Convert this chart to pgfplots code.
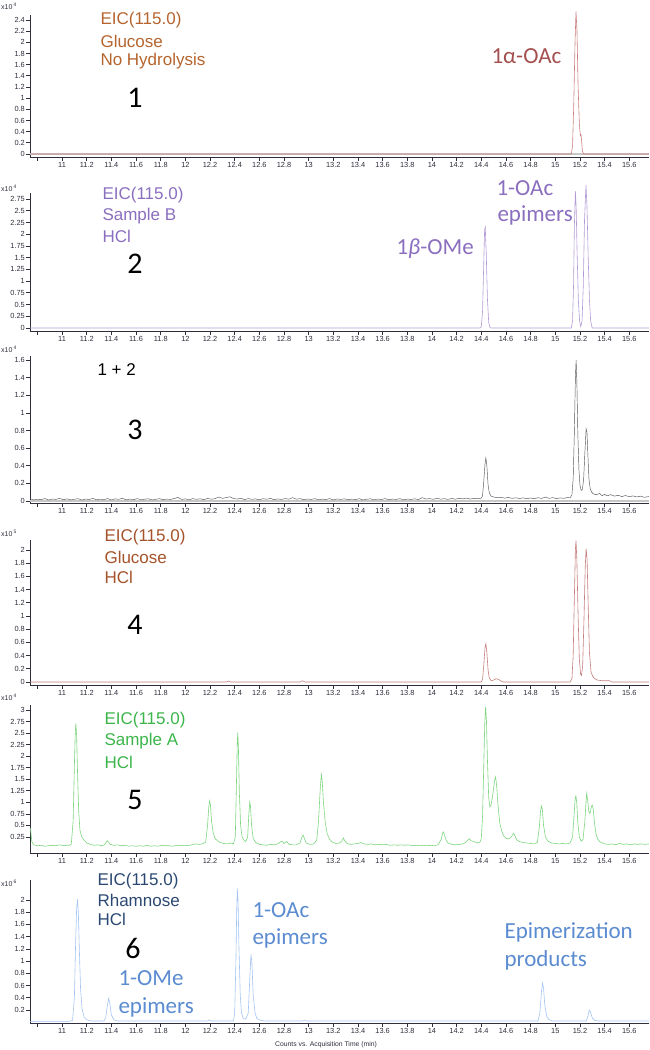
\documentclass[border=0pt]{standalone}
\usepackage{fontspec}
\setmainfont{Liberation Sans}
\newfontfamily\calfont{Carlito}
\usepackage{pgfplots}
\pgfplotsset{compat=1.18}
\definecolor{txA}{HTML}{B5642E}
\definecolor{txAc}{HTML}{A44F4F}
\definecolor{lnA}{HTML}{C98080}
\definecolor{txB}{HTML}{8B6FBF}
\definecolor{lnB}{HTML}{B39BD6}
\definecolor{lnC}{HTML}{555555}
\definecolor{txD}{HTML}{A4522A}
\definecolor{lnD}{HTML}{C47E7E}
\definecolor{txE}{HTML}{3BB54A}
\definecolor{lnE}{HTML}{7DD57F}
\definecolor{txF}{HTML}{2B4872}
\definecolor{anF}{HTML}{5B8BD0}
\definecolor{lnF}{HTML}{A4C4F2}
\definecolor{tk}{HTML}{2E2E3C}
\pgfplotsset{
 chrom/.style={
  scale only axis, width=619pt, xmin=10.74, xmax=15.76,
  axis x line=bottom, axis y line=left,
  axis line style={-, tk, line width=0.8pt},
  tick align=outside, major tick length=4pt,
  tick style={tk, line width=0.7pt},
  xtick={10.8,11,11.2,11.4,11.6,11.8,12,12.2,12.4,12.6,12.8,13,13.2,13.4,13.6,13.8,14,14.2,14.4,14.6,14.8,15,15.2,15.4,15.6},
  xticklabels={,11,11.2,11.4,11.6,11.8,12,12.2,12.4,12.6,12.8,13,13.2,13.4,13.6,13.8,14,14.2,14.4,14.6,14.8,15,15.2,15.4,15.6},
  tick label style={font=\fontsize{7.4}{8}\selectfont, text=tk},
  yticklabel style={inner sep=1pt},
  xticklabel style={inner sep=1.5pt},
  /pgf/number format/assume math mode=true,
  clip=false,
  every axis plot/.append style={line width=0.6pt, mark=none},
 }
}
\tikzset{
 eic/.style={anchor=west, font=\fontsize{17}{18}\selectfont},
 num/.style={font=\calfont\fontsize{30}{30}\selectfont},
 ann/.style={anchor=west, font=\calfont\fontsize{23}{24}\selectfont},
 mult/.style={anchor=west, inner sep=1pt, font=\fontsize{7}{8}\selectfont, text=tk}
}
\newcommand\mul[1]{x10\,\raisebox{3pt}{\fontsize{5}{5}\selectfont #1}}
\begin{document}
\begin{tikzpicture}
\useasboundingbox (0,0) rectangle (649pt,-1050pt);

% panel 1
\begin{axis}[chrom, at={(30pt,-157pt)}, anchor=south west, height=142pt,
 ymin=-0.054, ymax=2.49, ytick={0,0.2,0.4,0.6,0.8,1,1.2,1.4,1.6,1.8,2,2.2,2.4}]
\addplot[black!22, line width=1.6pt] coordinates {(10.74,0) (15.76,0)};
\addplot[lnA] coordinates {(10.74,0) (15.13,0) (15.14,0.15) (15.15,0.9) (15.16,2.0) (15.168,2.55) (15.176,2.2) (15.185,1.2) (15.195,0.55) (15.203,0.33) (15.208,0.35) (15.213,0.25) (15.22,0.05) (15.23,0) (15.76,0)};
\end{axis}

% panel 2
\begin{axis}[chrom, at={(30pt,-331pt)}, anchor=south west, height=138pt,
 ymin=-0.064, ymax=2.878, ytick={0,0.25,0.5,0.75,1,1.25,1.5,1.75,2,2.25,2.5,2.75}]
\addplot[lnB] coordinates {(10.74,0) (14.39,0) (14.40,0.03) (14.41,0.35) (14.42,1.4) (14.427,2.1) (14.432,2.15) (14.44,1.6) (14.45,0.6) (14.46,0.12) (14.47,0.01) (14.48,0)
 (15.13,0) (15.14,0.15) (15.148,0.9) (15.155,2.2) (15.163,2.92) (15.169,2.6) (15.177,1.6) (15.187,0.6) (15.197,0.15) (15.207,0.03) (15.217,0.15) (15.227,0.9) (15.237,2.3) (15.249,3.05) (15.257,2.6) (15.267,1.5) (15.277,0.6) (15.287,0.15) (15.299,0) (15.76,0)};
\end{axis}

% panel 3
\begin{axis}[chrom, at={(30pt,-503pt)}, anchor=south west, height=147pt,
 ymin=-0.023, ymax=1.645, ytick={0,0.2,0.4,0.6,0.8,1,1.2,1.4,1.6}]
\addplot[black!22, line width=1.2pt] coordinates {(10.74,0) (15.76,0)};
\addplot[lnC, line width=0.45pt] table {
10.74 .025
10.77 .012
10.80 .020
10.83 .015
10.86 .028
10.89 .010
10.92 .022
10.95 .018
10.98 .030
11.01 .014
11.04 .024
11.07 .012
11.10 .020
11.13 .026
11.16 .010
11.19 .022
11.22 .017
11.25 .029
11.28 .013
11.31 .021
11.34 .016
11.37 .027
11.40 .011
11.43 .024
11.46 .019
11.49 .030
11.52 .012
11.55 .022
11.58 .015
11.61 .027
11.64 .013
11.67 .020
11.70 .025
11.73 .011
11.76 .019
11.79 .026
11.82 .014
11.85 .022
11.88 .017
11.91 .028
11.94 .040
11.97 .018
12.00 .024
12.03 .013
12.06 .027
12.09 .019
12.12 .025
12.15 .014
12.18 .029
12.21 .020
12.24 .026
12.27 .045
12.30 .030
12.33 .038
12.36 .048
12.39 .028
12.42 .022
12.45 .030
12.48 .016
12.51 .027
12.54 .019
12.57 .024
12.60 .013
12.63 .026
12.66 .020
12.69 .029
12.72 .015
12.75 .023
12.78 .018
12.81 .027
12.84 .021
12.87 .038
12.90 .020
12.93 .027
12.96 .014
12.99 .022
13.02 .018
13.05 .026
13.08 .013
13.11 .021
13.14 .017
13.17 .027
13.20 .012
13.23 .023
13.26 .018
13.29 .025
13.32 .014
13.35 .021
13.38 .016
13.41 .026
13.44 .012
13.47 .020
13.50 .024
13.53 .013
13.56 .022
13.59 .017
13.62 .027
13.65 .014
13.68 .021
13.71 .018
13.74 .026
13.77 .013
13.80 .022
13.83 .017
13.86 .025
13.89 .015
13.92 .038
13.95 .022
13.98 .027
14.01 .019
14.04 .030
14.07 .021
14.10 .026
14.13 .018
14.16 .029
14.19 .020
14.22 .031
14.25 .024
14.28 .033
14.31 .022
14.34 .030
14.37 .025
14.40 .032
14.41 .06
14.42 .22
14.43 .42
14.437 .49
14.445 .40
14.455 .18
14.465 .09
14.48 .055
14.50 .045
14.53 .038
14.56 .042
14.59 .032
14.62 .040
14.65 .030
14.68 .036
14.71 .028
14.74 .035
14.77 .026
14.80 .034
14.83 .025
14.86 .037
14.89 .029
14.92 .045
14.95 .030
14.98 .038
15.01 .027
15.04 .035
15.07 .030
15.10 .040
15.12 .035
15.135 .07
15.145 .25
15.155 .80
15.163 1.40
15.169 1.60
15.175 1.35
15.183 .75
15.192 .35
15.200 .18
15.210 .12
15.220 .13
15.230 .25
15.240 .55
15.250 .82
15.257 .78
15.265 .50
15.273 .25
15.283 .14
15.295 .10
15.31 .08
15.33 .070
15.36 .085
15.38 .060
15.40 .075
15.42 .058
15.45 .072
15.48 .055
15.51 .065
15.54 .050
15.57 .062
15.60 .048
15.63 .058
15.66 .045
15.69 .055
15.72 .042
15.76 .050
};
\end{axis}

% panel 4
\begin{axis}[chrom, at={(30pt,-685pt)}, anchor=south west, height=145pt,
 ymin=-0.045, ymax=2.15, ytick={0,0.2,0.4,0.6,0.8,1,1.2,1.4,1.6,1.8,2}]
\addplot[lnD] table {
10.74 0
12.33 0
12.35 .015
12.37 0
12.93 0
12.95 .02
12.97 0
14.40 0
14.41 .04
14.42 .25
14.43 .52
14.437 .58
14.445 .45
14.455 .18
14.465 .06
14.48 .02
14.50 .03
14.52 .05
14.54 .04
14.56 .015
14.58 0
15.12 0
15.135 .05
15.145 .40
15.155 1.30
15.163 2.00
15.168 2.14
15.175 1.85
15.185 1.00
15.195 .35
15.205 .12
15.213 .10
15.222 .25
15.232 .90
15.243 1.75
15.25 2.02
15.258 1.85
15.267 1.15
15.277 .45
15.29 .15
15.305 .08
15.32 .05
15.34 .03
15.38 .02
15.44 .02
15.46 0
15.76 0
};
\end{axis}

% panel 5
\begin{axis}[chrom, at={(30pt,-853pt)}, anchor=south west, height=148pt,
 ymin=-0.097, ymax=3.108, ytick={0.25,0.5,0.75,1,1.25,1.5,1.75,2,2.25,2.5,2.75,3}]
\addplot[lnE] table {
10.74 .45
10.745 .40
10.755 .15
10.77 .08
10.80 .06
10.83 .07
10.86 .05
10.89 .06
10.92 .07
10.95 .06
10.98 .08
11.01 .06
11.04 .07
11.06 .07
11.075 .10
11.09 .60
11.10 1.80
11.107 2.50
11.112 2.71
11.118 2.45
11.126 1.60
11.135 .80
11.145 .40
11.16 .25
11.18 .18
11.20 .12
11.23 .09
11.26 .07
11.29 .08
11.32 .06
11.345 .08
11.36 .15
11.367 .17
11.375 .14
11.39 .09
11.42 .07
11.45 .08
11.48 .06
11.51 .07
11.54 .05
11.57 .06
11.60 .05
11.63 .06
11.66 .05
11.69 .07
11.72 .05
11.75 .06
11.78 .05
11.81 .07
11.84 .06
11.87 .06
11.90 .05
11.93 .07
11.96 .06
11.99 .07
12.02 .06
12.05 .08
12.08 .10
12.11 .09
12.14 .10
12.165 .14
12.18 .50
12.19 .90
12.196 1.03
12.203 .95
12.212 .60
12.225 .35
12.24 .22
12.26 .17
12.28 .13
12.31 .11
12.34 .10
12.37 .12
12.39 .10
12.405 .25
12.415 1.50
12.421 2.30
12.425 2.51
12.430 2.20
12.438 1.20
12.448 .50
12.46 .25
12.475 .18
12.49 .15
12.505 .25
12.515 .75
12.522 1.00
12.528 .92
12.537 .50
12.55 .22
12.57 .13
12.60 .09
12.63 .08
12.66 .07
12.69 .09
12.72 .08
12.75 .10
12.775 .15
12.784 .16
12.80 .11
12.815 .14
12.824 .15
12.84 .09
12.87 .08
12.90 .08
12.93 .12
12.945 .25
12.955 .29
12.965 .22
12.98 .12
13.01 .09
13.04 .10
13.065 .18
13.08 .60
13.095 1.35
13.103 1.60
13.11 1.45
13.12 1.00
13.135 .55
13.15 .32
13.17 .20
13.19 .14
13.22 .11
13.25 .12
13.27 .16
13.281 .23
13.29 .18
13.31 .11
13.34 .09
13.37 .10
13.40 .11
13.42 .13
13.45 .10
13.48 .09
13.51 .10
13.54 .08
13.57 .09
13.60 .08
13.63 .09
13.66 .07
13.69 .08
13.72 .07
13.75 .08
13.78 .07
13.81 .08
13.84 .06
13.87 .07
13.90 .06
13.93 .07
13.96 .06
13.99 .07
14.02 .06
14.05 .08
14.075 .20
14.085 .33
14.093 .36
14.10 .30
14.115 .18
14.13 .12
14.16 .09
14.19 .08
14.22 .09
14.25 .10
14.275 .14
14.29 .18
14.304 .21
14.315 .17
14.33 .16
14.35 .14
14.37 .12
14.39 .14
14.40 .22
14.41 .70
14.42 1.80
14.428 2.70
14.435 3.07
14.442 2.75
14.45 1.90
14.46 1.10
14.47 .90
14.48 .95
14.495 1.20
14.508 1.48
14.516 1.55
14.525 1.35
14.535 .95
14.55 .55
14.565 .38
14.58 .28
14.60 .22
14.62 .21
14.64 .24
14.655 .30
14.663 .33
14.675 .26
14.69 .18
14.71 .15
14.74 .13
14.77 .12
14.80 .11
14.83 .10
14.855 .13
14.87 .45
14.88 .80
14.888 .92
14.895 .85
14.905 .50
14.92 .25
14.94 .16
14.97 .12
15.00 .11
15.03 .10
15.06 .11
15.09 .10
15.12 .12
15.14 .25
15.152 .70
15.16 1.05
15.167 1.14
15.174 1.00
15.183 .55
15.195 .25
15.21 .16
15.225 .20
15.24 .60
15.25 1.05
15.255 1.19
15.262 1.05
15.272 .80
15.282 .76
15.292 .90
15.30 .94
15.308 .85
15.318 .55
15.33 .32
15.345 .20
15.36 .15
15.38 .12
15.40 .10
15.43 .09
15.46 .10
15.49 .08
15.52 .11
15.55 .09
15.58 .10
15.61 .08
15.64 .10
15.67 .09
15.70 .10
15.73 .09
15.76 .10
};
\end{axis}

% panel 6
\begin{axis}[chrom, at={(30pt,-1023pt)}, anchor=south west, height=143pt,
 ymin=-0.013, ymax=2.327, ytick={0.2,0.4,0.6,0.8,1,1.2,1.4,1.6,1.8,2}]
\addplot[lnF] table {
10.74 .015
11.06 .015
11.085 .03
11.10 .40
11.11 1.30
11.118 1.85
11.125 2.01
11.132 1.80
11.14 1.20
11.15 .55
11.162 .22
11.18 .08
11.20 .04
11.24 .02
11.34 .02
11.355 .08
11.368 .28
11.378 .39
11.388 .30
11.40 .12
11.42 .04
11.45 .02
12.18 .02
12.195 .04
12.21 .02
12.39 .02
12.40 .15
12.41 1.00
12.416 1.80
12.421 2.19
12.427 2.00
12.435 1.20
12.445 .45
12.455 .15
12.47 .06
12.49 .05
12.51 .15
12.522 .70
12.532 1.11
12.54 .95
12.55 .45
12.565 .15
12.58 .06
12.61 .03
12.65 .02
12.95 .02
12.965 .035
12.98 .02
14.86 .02
14.875 .15
14.888 .50
14.897 .64
14.905 .55
14.915 .28
14.93 .10
14.95 .04
14.98 .02
15.25 .02
15.265 .10
15.275 .20
15.285 .17
15.30 .07
15.32 .03
15.35 .02
15.76 .02
};
\end{axis}

% multipliers
\node[mult] at (0pt,-6pt) {\mul{4}};
\node[mult] at (0pt,-188pt) {\mul{4}};
\node[mult] at (0pt,-349pt) {\mul{4}};
\node[mult] at (0pt,-533pt) {\mul{5}};
\node[mult] at (0pt,-697pt) {\mul{4}};
\node[mult] at (0pt,-883pt) {\mul{6}};

% panel 1 text
\node[eic, text=txA] at (97pt,-20pt) {EIC(115.0)};
\node[eic, text=txA] at (97pt,-41pt) {Glucose};
\node[eic, text=txA] at (97pt,-61pt) {No Hydrolysis};
\node[num] at (135pt,-98pt) {1};
\node[ann, text=txAc] at (488pt,-56pt) {1α-OAc};
% panel 2 text
\node[eic, text=txB] at (99pt,-195pt) {EIC(115.0)};
\node[eic, text=txB] at (99pt,-216pt) {Sample B};
\node[eic, text=txB] at (99pt,-236pt) {HCl};
\node[num] at (135pt,-264pt) {2};
\node[ann, text=txB] at (493pt,-188pt) {1-OAc};
\node[ann, text=txB] at (494pt,-215pt) {epimers};
\node[ann, text=txB] at (393pt,-249pt) {1{\itshape β}-OMe};
% panel 3 text
\node[eic] at (94pt,-370pt) {1 + 2};
\node[num] at (135pt,-430pt) {3};
% panel 4 text
\node[eic, text=txD] at (101pt,-537pt) {EIC(115.0)};
\node[eic, text=txD] at (101pt,-557pt) {Glucose};
\node[eic, text=txD] at (101pt,-577pt) {HCl};
\node[num] at (135pt,-625pt) {4};
% panel 5 text
\node[eic, text=txE] at (101pt,-720pt) {EIC(115.0)};
\node[eic, text=txE] at (101pt,-741pt) {Sample A};
\node[eic, text=txE] at (101pt,-762pt) {HCl};
\node[num] at (135pt,-800pt) {5};
% panel 6 text
\node[eic, text=txF] at (94pt,-881pt) {EIC(115.0)};
\node[eic, text=txF] at (94pt,-900pt) {Rhamnose};
\node[eic, text=txF] at (94pt,-919pt) {HCl};
\node[num] at (133pt,-948pt) {6};
\node[ann, text=anF] at (115pt,-978pt) {1-OMe};
\node[ann, text=anF] at (115pt,-1007pt) {epimers};
\node[ann, text=anF] at (249pt,-910pt) {1-OAc};
\node[ann, text=anF] at (249pt,-938pt) {epimers};
\node[ann, text=anF] at (501pt,-932pt) {Epimerization};
\node[ann, text=anF] at (501pt,-960pt) {products};
\node[font=\fontsize{6.8}{7}\selectfont, text=tk] at (326pt,-1045pt) {Counts vs. Acquisition Time (min)};
\end{tikzpicture}
\end{document}
